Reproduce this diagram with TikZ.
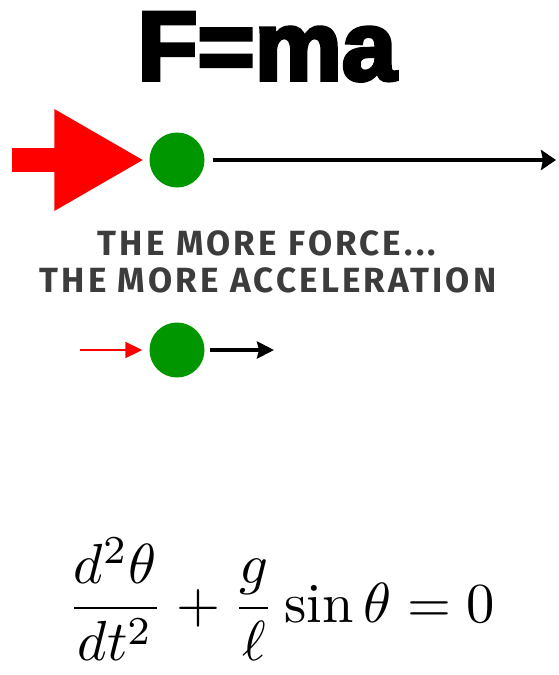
\documentclass[tikz,border=0pt]{standalone}
\usepackage{amsmath}
\usepackage{fontspec}
\usepackage{tikz}
\usetikzlibrary{arrows.meta, positioning}
\newfontfamily\titlefont[BoldFeatures={FakeBold=4}]{Liberation Sans}
\newfontfamily\handfont[LetterSpace=9]{Fira Sans}
\definecolor{ballgreen}{RGB}{0,150,0}
\definecolor{inkgray}{RGB}{60,60,60}

\begin{document}
\begin{tikzpicture}[x=1pt, y=-1pt,
        ball/.style={circle, fill=ballgreen, minimum size=55pt, inner sep=0pt},
        caption/.style={anchor=base, text=inkgray, font=\handfont\bfseries\fontsize{35}{37}\selectfont},
        push/.style={red, line width=#1},
        motion/.style={black, line width=#1}
    ]
        \useasboundingbox (0,0) rectangle (558,675);
        \node[anchor=base, font=\titlefont\bfseries\fontsize{98}{98}\selectfont] (title) at (267,80) {F=ma};

        % big force
        \node[ball] (bigball) at (177,160) {};
        \coordinate (bigpush) at (12,160);
        \coordinate (bigend) at (556,160);
        \draw[push=24pt, -{Triangle[length=90pt, width=95pt]}, shorten >=5pt] (bigpush) -- (bigball);
        \draw[motion=3.5pt, -{Stealth[length=15pt, width=20pt, inset=2pt]}, shorten <=8pt] (bigball) -- (bigend);

        \node[caption] (more1) at (267,255) {THE MORE FORCE...};
        \node[caption] (more2) at (268,292) {THE MORE ACCELERATION};

        % small force
        \node[ball] (smallball) at (177,350) {};
        \coordinate (smallpush) at (80,350);
        \coordinate (smallend) at (274,350);
        \draw[push=2pt, -{Triangle[length=17pt, width=16pt]}, shorten >=7pt] (smallpush) -- (smallball);
        \draw[motion=3.5pt, -{Stealth[length=17pt, width=17pt, inset=2pt]}, shorten <=5pt] (smallball) -- (smallend);

        \node[anchor=base, inner sep=0pt, scale=5.65] (eqn) at (281,622) {$\displaystyle \frac{d^2\theta}{dt^2}+\frac{g}{\ell}\sin\theta=0$};
    \end{tikzpicture}
\end{document}
